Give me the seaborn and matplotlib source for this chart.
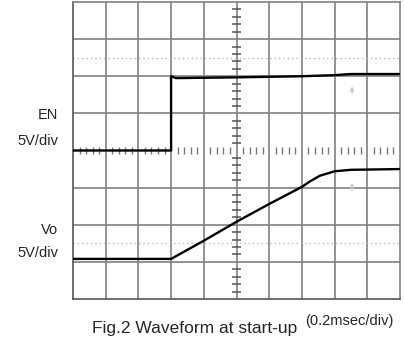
import numpy as np
import pandas as pd
import seaborn as sns
import matplotlib
matplotlib.use("Agg")
import matplotlib.pyplot as plt

# ---- data (time in ms, amplitude in scope divisions) ----
t_en = [0.0, 0.60, 0.60, 0.63, 1.00, 1.40, 1.60, 1.70, 2.00]
v_en = [4.00, 4.00, 6.00, 5.95, 5.97, 6.00, 6.03, 6.06, 6.06]

t_vo = [0.0, 0.60, 0.80, 1.00, 1.20, 1.40, 1.45, 1.51, 1.60, 1.70, 2.00]
v_vo = [1.08, 1.08, 1.57, 2.08, 2.56, 3.02, 3.17, 3.32, 3.44, 3.48, 3.50]

ch_labels = [("EN", "5V/div"), ("Vo", "5V/div")]
time_label = "(0.2msec/div)"
caption = "Fig.2 Waveform at start-up"

n_xdiv, n_ydiv = 10, 8
t_per_div = 0.2

sns.set_theme(style="white")
plt.rcParams['font.family'] = ['Liberation Sans', 'DejaVu Sans']

W, H = 404, 337
fig = plt.figure(figsize=(W / 100, H / 100), dpi=100)
ax = fig.add_axes([73 / W, 1 - 299 / H, 327 / W, 297 / H])

xmax = n_xdiv * t_per_div
ax.set_xlim(0, xmax)
ax.set_ylim(0, n_ydiv)

grid_c = "#808080"
# major grid
for i in range(1, n_xdiv):
    ax.axvline(i * t_per_div, color=grid_c, lw=1.2, zorder=1)
for j in range(1, n_ydiv):
    if j == n_ydiv // 2:
        continue
    ax.axhline(j, color=grid_c, lw=1.2, zorder=1)

# dotted reference lines
for yv in (1.5, 6.5):
    ax.axhline(yv, color="#b0b0b0", lw=0.9, ls=(0, (1, 2.5)), zorder=1)

# center cross ticks
xc = xmax / 2
yc = n_ydiv / 2
minor_x = [k * t_per_div / 5 for k in range(1, n_xdiv * 5) if k % 5 != 0]
ax.vlines(minor_x, yc - 0.09, yc + 0.09, color="#777777", lw=1.0, zorder=1)
minor_y = [k / 5 for k in range(1, n_ydiv * 5) if k % 5 != 0]
ax.hlines(minor_y, xc - 0.025, xc + 0.025, color="#555555", lw=1.1, zorder=1)

# faint markers
for ym in (5.75, 3.15):
    ax.annotate("", xy=(1.707, ym + 0.05), xytext=(1.707, ym - 0.3),
                arrowprops=dict(arrowstyle="-|>", color="#c8c8c8", lw=0.8,
                                mutation_scale=6), zorder=2)

# traces
df_en = pd.DataFrame({"t": t_en, "v": v_en})
df_vo = pd.DataFrame({"t": t_vo, "v": v_vo})
sns.lineplot(data=df_en, x="t", y="v", ax=ax, color="black", lw=1.7,
             sort=False, estimator=None, zorder=3)
sns.lineplot(data=df_vo, x="t", y="v", ax=ax, color="black", lw=1.7,
             sort=False, estimator=None, zorder=3)

ax.set_xticks([])
ax.set_yticks([])
ax.set_xlabel("")
ax.set_ylabel("")
for side, sp in ax.spines.items():
    sp.set_visible(True)
    sp.set_color("#555555" if side in ("bottom", "left") else grid_c)
    sp.set_linewidth(1.2)

def ftext(x, y, s, **kw):
    fig.text(x / W, 1 - y / H, s, **kw)

fs = 10.5
ftext(58, 115, ch_labels[0][0], ha="right", va="center", fontsize=fs)
ftext(58, 141, ch_labels[0][1], ha="right", va="center", fontsize=fs)
ftext(58, 230, ch_labels[1][0], ha="right", va="center", fontsize=fs)
ftext(58, 253, ch_labels[1][1], ha="right", va="center", fontsize=fs)
ftext(393, 321, time_label, ha="right", va="center", fontsize=10.5)
ftext(92, 333, caption, ha="left", va="baseline", fontsize=12.5)

fig.savefig("out.png", dpi=100)
